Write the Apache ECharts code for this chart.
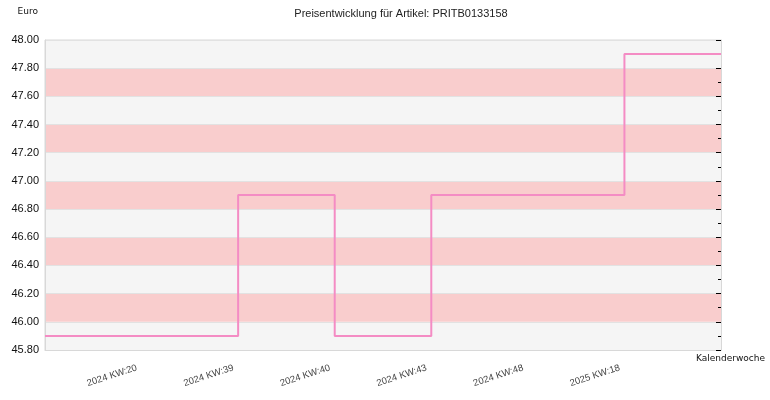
<!DOCTYPE html>
<html>
<head>
<meta charset="utf-8">
<script src="https://cdn.jsdelivr.net/npm/echarts@6/dist/echarts.min.js"></script>
<style>html,body{margin:0;padding:0;background:#fff}#c{width:770px;height:400px}</style>
</head>
<body>
<div id="c"></div>
<script>
var categories = ['', '2024 KW:20', '2024 KW:39', '2024 KW:40', '2024 KW:43', '2024 KW:48', '2025 KW:18', ''];
var prices = [45.90, 45.90, 46.90, 45.90, 46.90, 46.90, 47.90, 47.90];
var yMin = 45.8, yMax = 48.0, yStep = 0.2;

var chart = echarts.init(document.getElementById('c'));
chart.setOption({
  animation: false,
  backgroundColor: '#ffffff',
  title: {
    text: 'Preisentwicklung für Artikel: PRITB0133158',
    left: 396, top: 3, textAlign: 'center',
    textStyle: { fontFamily: 'Liberation Sans, Arial', fontSize: 11, fontWeight: 'normal', color: '#222' }
  },
  grid: { left: 45, right: 49, top: 40, bottom: 50, outerBoundsMode: 'none', containLabel: false, show: true, borderColor: '#d8d8d8', borderWidth: 1, backgroundColor: 'transparent' },
  xAxis: {
    type: 'category',
    data: categories,
    boundaryGap: false,
    name: 'Kalenderwoche',
    nameLocation: 'end',
    nameGap: 44,
    nameTextStyle: { fontFamily: 'DejaVu Sans', fontSize: 9, color: '#111', align: 'right', verticalAlign: 'top', padding: [4, 0, 0, 0] },
    axisLine: { lineStyle: { color: '#d8d8d8' } },
    axisTick: { show: false },
    axisLabel: { rotate: 18, interval: 0, margin: 16, padding: [0, 5, 0, 0], fontFamily: 'Liberation Sans, Arial', fontSize: 9.5, color: '#444' },
    splitLine: { show: false }
  },
  yAxis: [{
    type: 'value',
    min: yMin, max: yMax, interval: yStep,
    name: 'Euro',
    nameLocation: 'end',
    nameGap: 28,
    nameTextStyle: { fontFamily: 'DejaVu Sans', fontSize: 9, color: '#111', align: 'right', verticalAlign: 'middle', padding: [0, 7, 0, 0] },
    axisLine: { show: true, lineStyle: { color: '#d8d8d8' } },
    axisTick: { show: false },
    axisLabel: { formatter: function (v) { return v.toFixed(2); }, margin: 6, fontFamily: 'Liberation Sans, Arial', fontSize: 11, color: '#111' },
    splitLine: { show: true, lineStyle: { color: '#e2e2e2' } },
    splitArea: { show: true, areaStyle: { color: ['#f5f5f5', '#f9cdcd'] } }
  }, {
    type: 'value',
    position: 'right',
    min: yMin, max: yMax, interval: yStep,
    axisLine: { show: true, lineStyle: { color: '#d8d8d8' } },
    axisTick: { show: true, inside: true, length: 5, lineStyle: { color: '#000' } },
    minorTick: { show: true, splitNumber: 2, length: 3, lineStyle: { color: '#000' } },
    axisLabel: { show: false },
    splitLine: { show: false }
  }],
  series: [{
    type: 'line',
    step: 'end',
    data: prices,
    yAxisIndex: 0,
    showSymbol: false,
    symbol: 'none',
    lineStyle: { color: '#f48cc4', width: 2 },
    itemStyle: { color: '#f48cc4' }
  }]
});
</script>
</body>
</html>
